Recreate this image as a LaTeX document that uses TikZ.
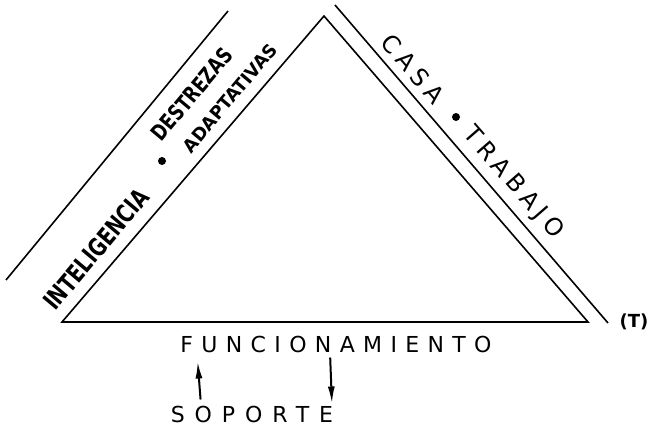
\documentclass[tikz,border=0pt]{standalone}
\usepackage{fontspec}
\setmainfont{DejaVu Sans}
\newfontfamily\letrasC[LetterSpace=23]{DejaVu Sans}
\newfontfamily\letrasD[LetterSpace=38]{DejaVu Sans}
\newfontfamily\letrasE[LetterSpace=45]{DejaVu Sans}
\usetikzlibrary{arrows.meta}
\newcommand{\angosto}[2]{\scalebox{#1}[1]{#2}}

\tikzset{
    lado/.style={line width=1.6pt, line join=miter},
    rotulo/.style={inner sep=0pt},
    punto/.style={circle, fill, inner sep=0pt, minimum size=8pt},
    flecha/.style={line width=2pt, -{Latex[length=17pt,width=7pt]}}
}

\begin{document}
\begin{tikzpicture}[x=1pt, y=-1pt]
        \useasboundingbox (0,0) rectangle (650,427);

        \coordinate (cima) at (324,16);
        \coordinate (izq) at (62,322);
        \coordinate (der) at (588,322);
        \draw [lado] (cima) -- (der) -- (izq) -- cycle;

        \coordinate (ai) at (6,280);
        \coordinate (bi) at (228,11);
        \draw [lado] (ai) -- (bi);
        \coordinate (ad) at (335,5);
        \coordinate (bd) at (608,323);
        \draw [lado] (ad) -- (bd);

        % lado izquierdo
        \node (intel) [rotulo, rotate=50, font=\bfseries\fontsize{25}{25}\selectfont] at (96,249) {\angosto{0.76}{INTELIGENCIA}};
        \node (pi) [punto] at (162,161) {};
        \node (destr) [rotulo, rotate=50, font=\bfseries\fontsize{22}{22}\selectfont] at (192,94) {\angosto{0.78}{DESTREZAS}};
        \node (adapt) [rotulo, rotate=50, font=\bfseries\fontsize{18}{18}\selectfont] at (230,98) {\angosto{0.98}{ADAPTATIVAS}};

        % lado derecho
        \node (casa) [rotulo, rotate=-49, font=\letrasC\fontsize{24}{24}\selectfont] at (413,69) {CASA};
        \node (pd) [punto] at (456,117) {};
        \node (trab) [rotulo, rotate=-49, font=\letrasC\fontsize{24}{24}\selectfont] at (513,183) {TRABAJO};

        \node (nota) [rotulo, font=\bfseries\fontsize{18}{18}\selectfont] at (634,322) {(T)};

        % base
        \node (func) [rotulo, font=\letrasD\fontsize{22}{22}\selectfont] at (336,344) {FUNCIONAMIENTO};
        \node (sop) [rotulo, font=\letrasE\fontsize{22}{22}\selectfont] at (252,414) {SOPORTE};

        \draw [flecha, shorten <=6pt, shorten >=9pt] ([xshift=-51pt]sop.north) -- ([xshift=-139pt]func.south);
        \draw [flecha, shorten <=5pt, shorten >=2pt] ([xshift=-6pt]func.south) -- ([xshift=80pt]sop.north);
    \end{tikzpicture}
\end{document}
